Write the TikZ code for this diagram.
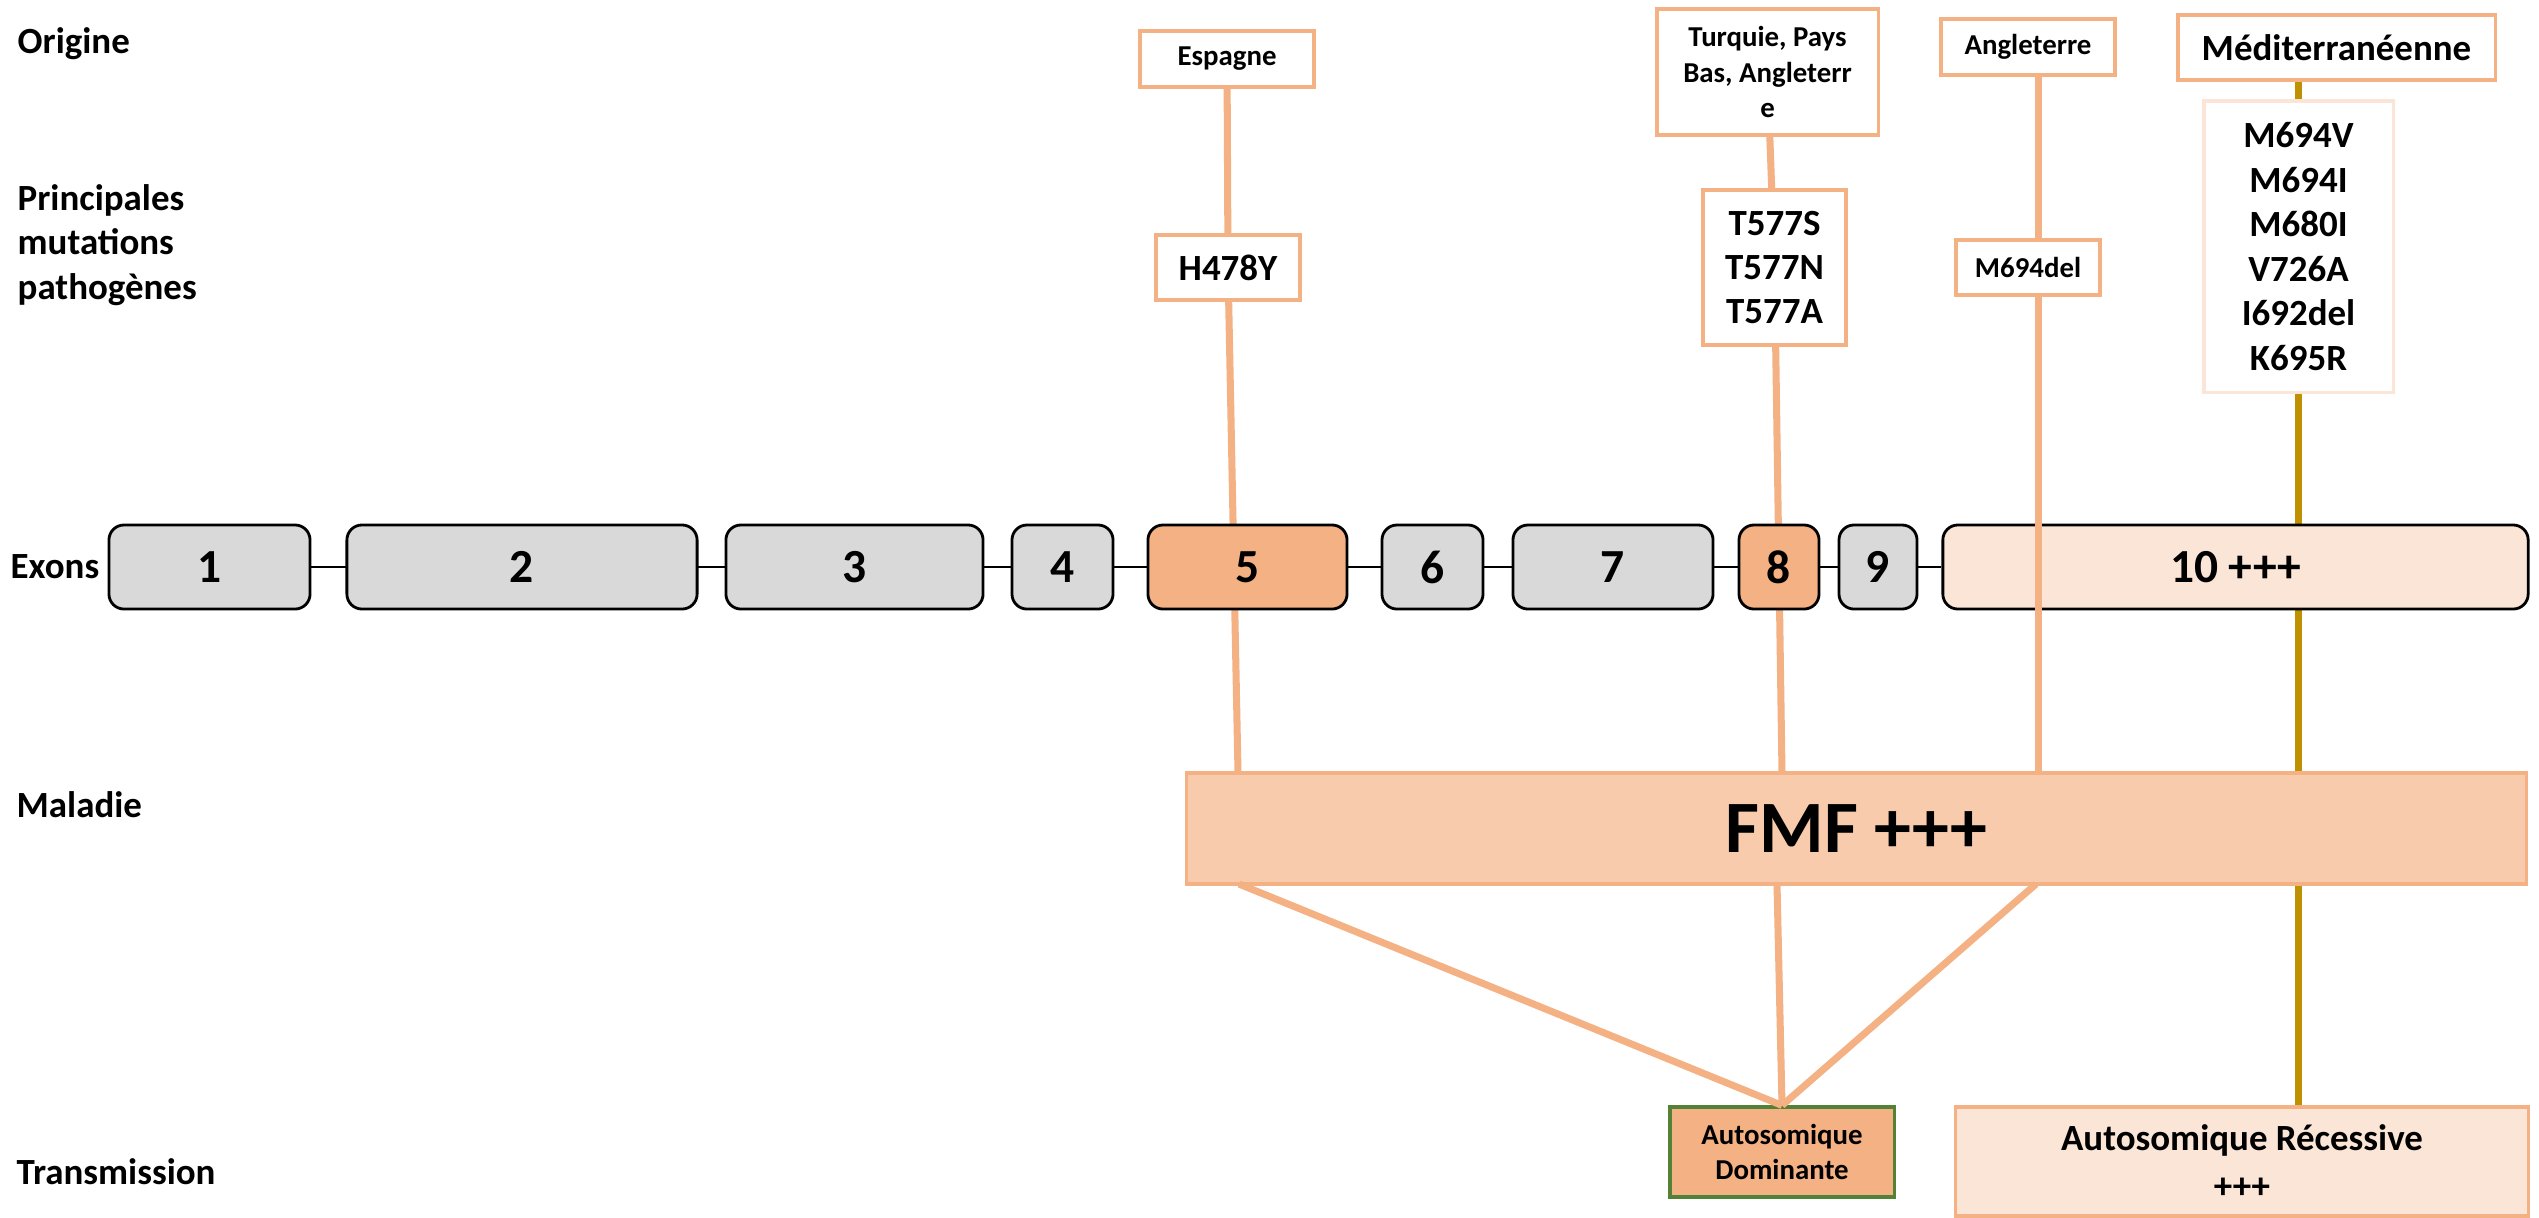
\documentclass[tikz,border=0pt]{standalone}
\usepackage{fontspec}
\setmainfont{Carlito}
\usetikzlibrary{backgrounds}
\definecolor{exgrey}{HTML}{D9D9D9}
\definecolor{orl}{HTML}{F4B183}
\definecolor{orpale}{HTML}{FBE5D6}
\definecolor{fmfc}{HTML}{F8CBAD}
\definecolor{goldc}{HTML}{BF9000}
\definecolor{greenc}{HTML}{538135}
\begin{document}
\begin{tikzpicture}[x=0.01cm,y=-0.01cm,
	rowlabel/.style={anchor=west,align=left,inner sep=0pt,font=\fontsize{10.5}{12.6}\selectfont\bfseries},
	exon/.style={draw=black,line width=0.8pt,rounded corners=0.15cm,fill=exgrey,minimum height=0.84cm,inner sep=0pt,font=\fontsize{13.5}{16}\selectfont\bfseries},
	tag/.style={draw=orl,line width=0.9pt,fill=white,inner sep=0pt,align=center},
	tagsmall/.style={tag,font=\fontsize{8.2}{10}\selectfont\bfseries},
	tagbig/.style={tag,font=\fontsize{10.5}{12.6}\selectfont\bfseries},
	link/.style={draw=orl,line width=2pt},
	goldlink/.style={draw=goldc,line width=2pt}]
	\useasboundingbox (0,0) rectangle (2539,1217);

	\node[rowlabel] (origine) at (17,44) {Origine};
	\node[rowlabel] (mutations) at (17,245) {Principales\\mutations\\pathogènes};
	\node[rowlabel] (exons) at (10,567) {Exons};
	\node[rowlabel] (maladie) at (16,805) {Maladie};
	\node[rowlabel] (transmission) at (16,1172) {Transmission};

	\node[exon,minimum width=2.01cm] (e1) at (209.5,567) {1};
	\node[exon,minimum width=3.50cm] (e2) at (522,567) {2};
	\node[exon,minimum width=2.57cm] (e3) at (854.5,567) {3};
	\node[exon,minimum width=1.01cm] (e4) at (1062.5,567) {4};
	\node[exon,minimum width=1.99cm,fill=orl] (e5) at (1247.5,567) {5};
	\node[exon,minimum width=1.01cm] (e6) at (1432.5,567) {6};
	\node[exon,minimum width=2.00cm] (e7) at (1613,567) {7};
	\node[exon,minimum width=0.80cm,fill=orl] (e8) at (1779,567) {8};
	\node[exon,minimum width=0.78cm] (e9) at (1878,567) {9};
	\node[exon,minimum width=5.85cm,fill=orpale] (e10) at (2235.5,567) {10 +++};

	\node[tagsmall,minimum width=1.74cm,minimum height=0.56cm] (espagne) at (1227,59) {Espagne};
	\node[tagbig,minimum width=1.44cm,minimum height=0.65cm] (h478) at (1228,267.5) {H478Y};
	\node[tagsmall,minimum width=2.21cm,minimum height=1.26cm] (turquie) at (1767.5,72) {Turquie, Pays\\Bas, Angleterr\\e};
	\node[tagbig,minimum width=1.43cm,minimum height=1.55cm,font=\fontsize{10.5}{12.5}\selectfont\bfseries] (t577) at (1774.5,267.5) {T577S\\T577N\\T577A};
	\node[tagsmall,minimum width=1.74cm,minimum height=0.56cm] (angleterre) at (2028,47) {Angleterre};
	\node[tagsmall,minimum width=1.44cm,minimum height=0.55cm] (m694) at (2028,267.5) {M694del};
	\node[tagbig,minimum width=3.17cm,minimum height=0.65cm] (med) at (2336.5,47.5) {Méditerranéenne};
	\node[tagbig,draw=orpale,minimum width=1.89cm,minimum height=2.91cm,font=\fontsize{10.5}{12.66}\selectfont\bfseries] (mut) at (2298.5,246.5) {M694V\\M694I\\M680I\\V726A\\I692del\\K695R};

	\node[draw=orl,line width=0.9pt,fill=fmfc,minimum width=13.39cm,minimum height=1.11cm,font=\fontsize{21}{25}\selectfont\bfseries] (fmf) at (1856.5,828.5) {FMF +++};
	\node[draw=greenc,line width=0.9pt,fill=orl,minimum width=2.24cm,minimum height=0.90cm,inner sep=0pt,align=center,font=\fontsize{8.2}{9.9}\selectfont\bfseries] (ad) at (1782,1152) {Autosomique\\Dominante};
	\node[draw=orl,line width=0.9pt,fill=orpale,minimum width=5.72cm,minimum height=1.09cm,inner sep=0pt,align=center,font=\fontsize{10.5}{13.5}\selectfont\bfseries] (ar) at (2242,1161.5) {Autosomique Récessive\\+++};

	\coordinate (f5) at (1238,773);
	\coordinate (f8) at (1782,773);
	\coordinate (f10) at (2038,773);
	\coordinate (g5) at (1239,884);
	\coordinate (g8) at (1777,884);
	\coordinate (g10) at (2036,884);

	\begin{pgfonlayer}{background}
	\draw[line width=0.8pt] (e1.east) -- (e10.west);
	\draw[link] (espagne) -- (h478) (h478) -- (f5);
	\draw[link] (turquie) -- (t577) (t577) -- (f8);
	\draw[goldlink] (med.south -| mut.north) -- (mut.north) (mut.south) -- (fmf.north -| mut.south);
	\end{pgfonlayer}
	\draw[link] (angleterre.south -| f10) -- (m694.north -| f10) (m694.south -| f10) -- (f10);
	\draw[link] (g5) -- (ad.north);
	\draw[link] (g8) -- (ad.north);
	\draw[link] (g10) -- (ad.north);
	\draw[goldlink] (fmf.south -| mut.south) -- (ar.north -| mut.south);
\end{tikzpicture}
\end{document}
